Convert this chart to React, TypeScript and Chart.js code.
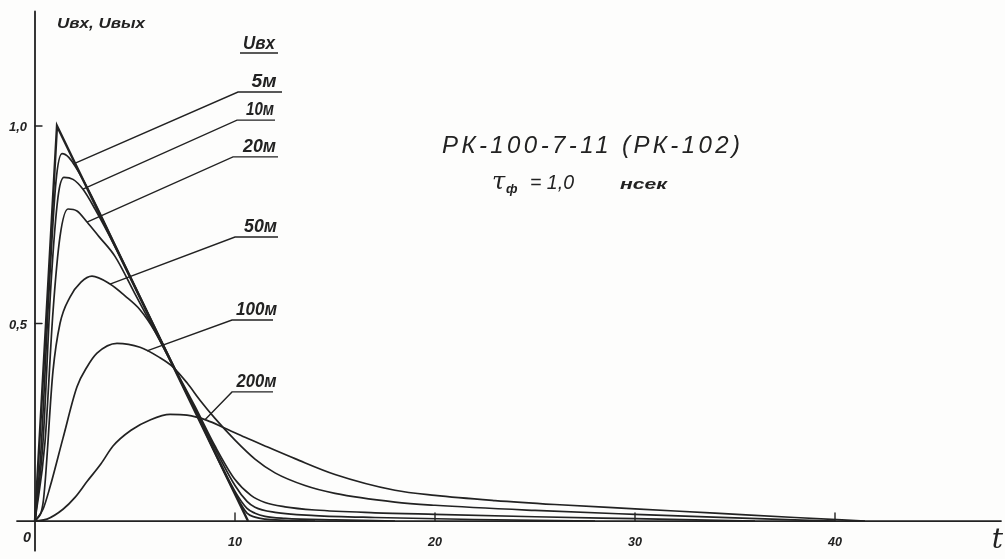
import { useEffect, useRef } from "react";
import { Chart, registerables } from "chart.js";

Chart.register(...registerables);

// Input pulse with a 1,0 ns front (t in ns, U relative)
const tIn = [0, 1.1, 10.65];
const uIn = [0, 1.0, 0];

// Pulse after 5 m of cable
const t5 = [0, 0.3, 0.7, 1.05, 1.35, 1.7, 2.5, 4, 6, 8, 10, 10.6, 11, 11.5, 12.5, 14];
const u5 = [0, 0.18, 0.58, 0.86, 0.93, 0.92, 0.855, 0.7, 0.49, 0.28, 0.07, 0.02, 0.01, 0.005, 0.002, 0];

// 10 m
const t10 = [0, 0.4, 0.8, 1.15, 1.45, 1.9, 2.4, 3, 4, 6, 8, 10, 10.6, 11, 11.5, 12.5, 15, 18];
const u10 = [0, 0.2, 0.6, 0.82, 0.87, 0.865, 0.84, 0.79, 0.695, 0.487, 0.28, 0.075, 0.032, 0.02, 0.012, 0.007, 0.003, 0];

// 20 m
const t20 = [0, 0.5, 0.9, 1.25, 1.65, 2.1, 2.6, 3.2, 4, 5, 6, 8, 10, 10.6, 11, 12, 14, 17, 22, 28];
const u20 = [0, 0.2, 0.53, 0.72, 0.79, 0.785, 0.757, 0.72, 0.67, 0.575, 0.48, 0.285, 0.09, 0.05, 0.035, 0.022, 0.014, 0.009, 0.004, 0];

// 50 m
const t50 = [0, 0.4, 0.9, 1.25, 1.75, 2.3, 2.85, 3.75, 4.5, 5.25, 6, 7, 8, 9, 10, 10.8, 11.5, 12.5, 14, 17, 20, 25, 30, 36];
const u50 = [0, 0.045, 0.38, 0.5, 0.567, 0.605, 0.62, 0.6, 0.57, 0.535, 0.48, 0.385, 0.29, 0.19, 0.105, 0.065, 0.047, 0.036, 0.028, 0.021, 0.017, 0.011, 0.006, 0];

// 100 m
const t100 = [0, 0.4, 0.75, 1.4, 2.1, 2.6, 3.1, 4.1, 5.25, 6.2, 6.9, 7.6, 8.25, 9, 10, 11, 12, 13.5, 15, 18, 20, 25, 30, 35, 40];
const u100 = [0, 0.03, 0.086, 0.21, 0.34, 0.39, 0.425, 0.45, 0.44, 0.415, 0.39, 0.35, 0.306, 0.26, 0.205, 0.157, 0.122, 0.09, 0.07, 0.048, 0.04, 0.027, 0.017, 0.008, 0];

// 200 m
const t200 = [0, 0.6, 1.4, 2, 2.6, 3.3, 3.9, 4.8, 5.75, 6.75, 7.6, 8.6, 9.5, 10.5, 11.6, 13, 15, 18, 20, 23, 26, 30, 34, 38, 41.5];
const u200 = [0, 0.005, 0.03, 0.06, 0.1, 0.145, 0.19, 0.23, 0.256, 0.27, 0.268, 0.255, 0.235, 0.212, 0.188, 0.158, 0.118, 0.078, 0.065, 0.052, 0.042, 0.031, 0.02, 0.009, 0];

const cableT = [t5, t10, t20, t50, t100, t200];
const cableU = [u5, u10, u20, u50, u100, u200];
const cableLabels = ["5м", "10м", "20м", "50м", "100м", "200м"];

// Leader lines: the point on each curve, and the underline the label sits on
const leaderT = [1.9, 2.4, 2.6, 3.75, 5.6, 8.5];
const underlineFromT = [10.15, 10.1, 9.9, 10.0, 9.85, 9.85];
const underlineToT = [12.35, 12.0, 12.15, 12.15, 11.9, 11.9];
const underlineU = [1.086, 1.015, 0.922, 0.719, 0.509, 0.327];
const labelWidths = [25, 28, 33, 33, 41, 40];

const headerLabel = "Uвх";
const headerFromT = 10.25;
const headerToT = 12.15;
const headerU = 1.185;

const xTicks = [10, 20, 30, 40];
const xTickLabels = ["10", "20", "30", "40"];
const yTicks = [0.5, 1.0];
const yTickLabels = ["0,5", "1,0"];

const axisTitleY = "Uвх, Uвых";
const axisTitleX = "t";
const titleCable = "РК-100-7-11 (РК-102)";

// Visible window of the sheet
const tMin = -1.75;
const tMax = 48.5;
const uMin = -0.096;
const uMax = 1.319;
const tAxisFrom = -0.9;
const tAxisTo = 48.3;
const uAxisFrom = -0.075;
const uAxisTo = 1.29;

const INK = "#222222";

function interp(ts: number[], us: number[], t: number): number {
  for (let i = 1; i < ts.length; i++) {
    if (t <= ts[i]) {
      const f = (t - ts[i - 1]) / (ts[i] - ts[i - 1]);
      return us[i - 1] + f * (us[i] - us[i - 1]);
    }
  }
  return us[us.length - 1];
}

function toPoints(ts: number[], us: number[]) {
  return ts.map((t, i) => ({ x: t, y: us[i] }));
}

// Draws text stretched or squeezed horizontally to a given width
function fitText(ctx: CanvasRenderingContext2D, text: string, left: number, baseline: number, width: number, font: string) {
  ctx.save();
  ctx.font = font;
  ctx.textAlign = "left";
  ctx.textBaseline = "alphabetic";
  const w = ctx.measureText(text).width || 1;
  ctx.translate(left, baseline);
  ctx.scale(width / w, 1);
  ctx.fillText(text, 0, 0);
  ctx.restore();
}

// Draws text spread out to a given width by letter spacing
function spacedText(ctx: CanvasRenderingContext2D, text: string, left: number, baseline: number, width: number, font: string) {
  ctx.save();
  ctx.font = font;
  (ctx as any).letterSpacing = "0px";
  const w = ctx.measureText(text).width;
  const n = Array.from(text).length;
  (ctx as any).letterSpacing = `${n > 1 ? (width - w) / (n - 1) : 0}px`;
  ctx.textAlign = "left";
  ctx.textBaseline = "alphabetic";
  ctx.fillText(text, left, baseline);
  ctx.restore();
}

const sheetPlugin = {
  id: "sheet",
  beforeDraw(chart: any) {
    const { ctx, width, height } = chart;
    ctx.save();
    ctx.fillStyle = "#fdfdfc";
    ctx.fillRect(0, 0, width, height);
    ctx.restore();
  },
  beforeDatasetsDraw(chart: any) {
    const { ctx } = chart;
    const xs = chart.scales.x;
    const ys = chart.scales.y;
    const x0 = xs.getPixelForValue(0);
    const y0 = ys.getPixelForValue(0);
    ctx.save();
    ctx.strokeStyle = INK;
    ctx.lineWidth = 1.8;
    ctx.lineCap = "round";
    ctx.beginPath();
    ctx.moveTo(xs.getPixelForValue(tAxisFrom), y0);
    ctx.lineTo(xs.getPixelForValue(tAxisTo), y0);
    ctx.moveTo(x0, ys.getPixelForValue(uAxisFrom));
    ctx.lineTo(x0, ys.getPixelForValue(uAxisTo));
    ctx.stroke();

    ctx.lineWidth = 1.4;
    ctx.beginPath();
    xTicks.forEach((t) => {
      const px = xs.getPixelForValue(t);
      ctx.moveTo(px, y0);
      ctx.lineTo(px, y0 - 8);
    });
    yTicks.forEach((u) => {
      const py = ys.getPixelForValue(u);
      ctx.moveTo(x0, py);
      ctx.lineTo(x0 + 7, py);
    });
    ctx.stroke();

    ctx.fillStyle = INK;
    const tickFont = 'italic bold 12px "Liberation Sans"';
    xTicks.forEach((t, i) => {
      const px = xs.getPixelForValue(t);
      fitText(ctx, xTickLabels[i], px - 7, y0 + 25, 14, tickFont);
    });
    yTicks.forEach((u, i) => {
      const py = ys.getPixelForValue(u);
      fitText(ctx, yTickLabels[i], x0 - 26, py + 5, 18, tickFont);
    });
    fitText(ctx, "0", x0 - 12, y0 + 21, 8, 'italic bold 15px "Liberation Sans"');

    fitText(ctx, axisTitleY, 57, 28, 88, 'italic bold 15px "Liberation Sans"');
    ctx.font = 'italic 28px "DejaVu Serif"';
    ctx.textAlign = "right";
    ctx.fillText(axisTitleX, 1003, 548);
    ctx.restore();
  },
  afterDatasetsDraw(chart: any) {
    const { ctx } = chart;
    const xs = chart.scales.x;
    const ys = chart.scales.y;
    ctx.save();
    ctx.fillStyle = INK;
    const labelFont = 'italic bold 18px "Liberation Sans"';
    cableLabels.forEach((lab, i) => {
      const a = xs.getPixelForValue(underlineFromT[i]);
      const b = xs.getPixelForValue(underlineToT[i]);
      const py = ys.getPixelForValue(underlineU[i]);
      const w = labelWidths[i];
      const cx = (a + b) / 2 + 4;
      fitText(ctx, lab, cx - w / 2, py - 5, w, labelFont);
    });
    {
      const a = xs.getPixelForValue(headerFromT);
      const b = xs.getPixelForValue(headerToT);
      const py = ys.getPixelForValue(headerU);
      fitText(ctx, headerLabel, (a + b) / 2 - 16, py - 4, 32, labelFont);
    }

    // Cable type and front duration
    spacedText(ctx, titleCable, 442, 153, 298, 'italic 24px "Liberation Sans"');
    ctx.font = 'italic 24px "DejaVu Serif"';
    ctx.textAlign = "left";
    ctx.fillText("τ", 492, 189);
    ctx.font = 'italic bold 13px "Liberation Sans"';
    ctx.fillText("ф", 506, 193);
    fitText(ctx, "= 1,0", 530, 189, 44, 'italic 20px "Liberation Sans"');
    fitText(ctx, "нсек", 620, 189, 47, 'italic bold 15px "Liberation Sans"');
    ctx.restore();
  },
};

export default function App() {
  const canvasRef = useRef<HTMLCanvasElement | null>(null);

  useEffect(() => {
    const canvas = canvasRef.current;
    if (!canvas) return;

    const datasets: any[] = [];
    datasets.push({
      data: toPoints(tIn, uIn),
      borderColor: INK,
      borderWidth: 2.4,
      tension: 0,
      pointRadius: 0,
    });
    cableT.forEach((ts, i) => {
      datasets.push({
        data: toPoints(ts, cableU[i]),
        borderColor: INK,
        borderWidth: 1.7,
        cubicInterpolationMode: "monotone",
        pointRadius: 0,
      });
    });
    cableLabels.forEach((_, i) => {
      const cu = interp(cableT[i], cableU[i], leaderT[i]);
      datasets.push({
        data: [
          { x: leaderT[i], y: cu },
          { x: underlineFromT[i], y: underlineU[i] },
          { x: underlineToT[i], y: underlineU[i] },
        ],
        borderColor: INK,
        borderWidth: 1.4,
        tension: 0,
        pointRadius: 0,
      });
    });
    datasets.push({
      data: [
        { x: headerFromT, y: headerU },
        { x: headerToT, y: headerU },
      ],
      borderColor: INK,
      borderWidth: 1.6,
      tension: 0,
      pointRadius: 0,
    });

    const chart = new Chart(canvas, {
      type: "line",
      data: { datasets },
      options: {
        responsive: false,
        animation: false,
        events: [],
        layout: { padding: 0 },
        plugins: { legend: { display: false }, tooltip: { enabled: false } },
        scales: {
          x: { type: "linear", min: tMin, max: tMax, display: false },
          y: { type: "linear", min: uMin, max: uMax, display: false },
        },
      },
      plugins: [sheetPlugin],
    } as any);

    return () => chart.destroy();
  }, []);

  return (
    <div style={{ position: "fixed", left: 0, top: 0, width: 1005, height: 559, background: "#fdfdfc" }}>
      <canvas ref={canvasRef} width={1005} height={559} style={{ display: "block" }} />
    </div>
  );
}
